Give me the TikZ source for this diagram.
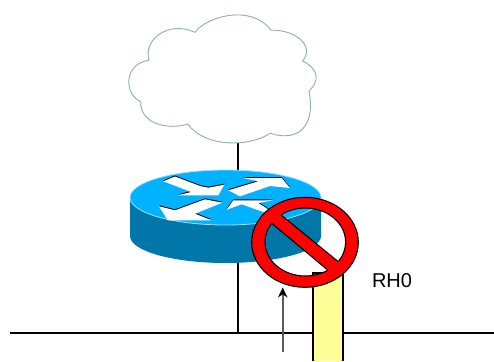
\documentclass[tikz,border=0pt]{standalone}
\usepackage{fontspec}
\setmainfont{Liberation Sans}
\usetikzlibrary{positioning,arrows.meta}
\definecolor{mCloud}{HTML}{8FADB5}
\definecolor{mRouterTop}{HTML}{00B2FF}
\definecolor{mRouterSide}{HTML}{0077A8}
\definecolor{mRouterRim}{HTML}{9FE0FA}
\definecolor{mStop}{HTML}{FF0000}
\definecolor{mPacket}{HTML}{FFFF99}
\tikzset{
  wire/.style={black, line width=2pt},
  probe/.style={-{Stealth[length=10pt,width=9.5pt,color=black]}, black!65, line width=1.8pt},
  ringline/.style={black, line width=1.1pt},
}
\newcommand{\routerarrow}[1]{%
\fill[black, shift={(0,-1)}] #1;%
\fill[white] #1;}
\begin{document}
\begin{tikzpicture}[x=1pt,y=-1pt]
\useasboundingbox (0,0) rectangle (494,361);
\coordinate (lanleft) at (10,333);
\coordinate (lanright) at (494,333);
\coordinate (cloudfoot) at (238,143);
\coordinate (lanjoin) at (238,333);
\coordinate (probetail) at (282.7,352);
\coordinate (probetip) at (282.7,287.5);
\draw[wire] (lanleft) -- (lanright);
\draw[wire] (cloudfoot) -- (lanjoin);
% cloud
\draw[mCloud, fill=white, line width=0.9pt] (195,32.3)
  .. controls (207,16) and (252,4) .. (271,30.3)
  .. controls (292,29) and (316,44) .. (302.7,61)
  .. controls (320,70) and (319,82) .. (309,91)
  .. controls (316,128) and (297,142) .. (270,133.3)
  .. controls (250,147) and (205,148) .. (187.7,124)
  .. controls (170,130) and (140,125) .. (140.7,101.7)
  .. controls (125,95) and (122,65) .. (149,60)
  .. controls (143,40) and (168,20) .. (195,32.3) -- cycle;
% router
\fill[mRouterSide] (130,197) -- (130,236)
  arc[start angle=180, end angle=360, x radius=95.5pt, y radius=27pt] -- (321,197) -- cycle;
\draw[mRouterRim, fill=mRouterTop, line width=0.8pt] (225.5,197.5) ellipse [x radius=95.5pt, y radius=27.5pt];
\routerarrow{(163.3,181.3) -- (175,176.5) -- (200,186) -- (208.3,187.7) -- (224.3,184.7) -- (218.3,195.3) -- (178.3,195.3) -- (191,192) -- cycle}
\routerarrow{(228.3,190.3) -- (258.3,181.3) -- (243.3,178) -- (281.7,178) -- (290,188) -- (270,186) -- (240,196.3) -- cycle}
\routerarrow{(159,206.3) -- (175,210.3) -- (205,199.3) -- (222.3,202.7) -- (195,213.7) -- (211.7,220.3) -- (167.7,220.3) -- cycle}
\routerarrow{(226.7,209.7) -- (233.3,200.3) -- (273.3,200.3) -- (258.3,203) -- (275,213.7) -- (268,213.7) -- (241.7,204.3) -- cycle}
% packet
\draw[black, fill=mPacket, line width=1.3pt] (313,361) -- (313,273) -- (343,273) -- (343,361);
% forbidden sign
\draw[ringline, fill=mStop, even odd rule] (305,242.3) ellipse [x radius=53.3pt, y radius=45pt]
  (305.3,242) ellipse [x radius=40.3pt, y radius=34pt];
\fill[mStop] (268.6,220.7) -- (277.7,212.3) -- (341.4,264.2) -- (330.8,272.5) -- cycle;
\draw[ringline] (271.7,223.3) -- (327.7,270);
\draw[ringline] (280.8,214.8) -- (338.3,261.7);
\draw[probe] (probetail) -- (probetip);
\node[font=\fontsize{20}{24}\selectfont, inner sep=0pt] (rhlabel) at (392,281) {RH0};
\end{tikzpicture}
\end{document}
